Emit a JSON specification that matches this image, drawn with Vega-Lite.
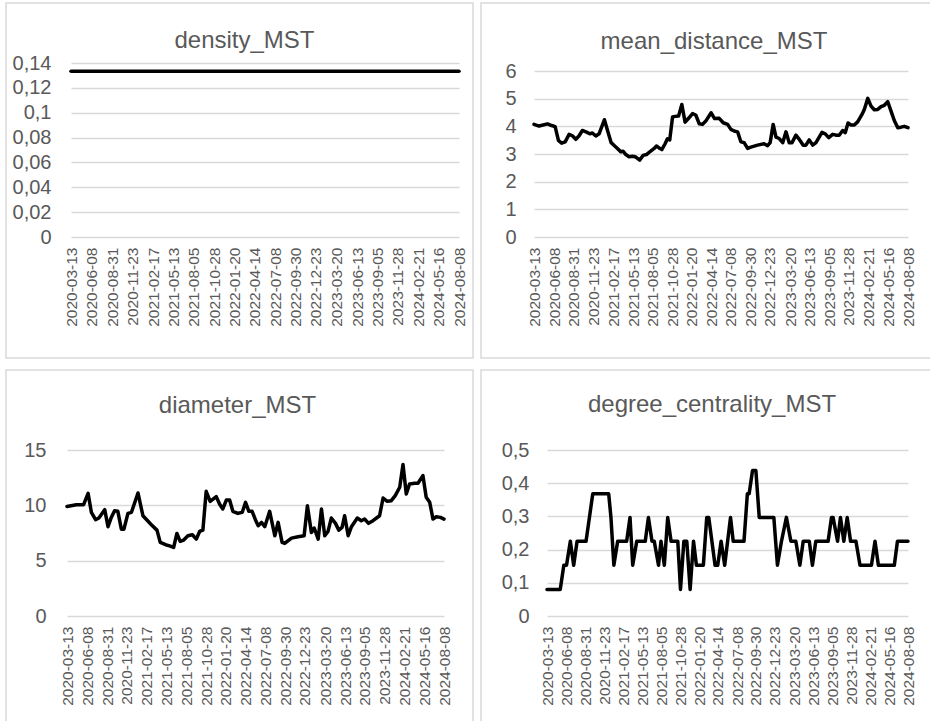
{
  "$schema": "https://vega.github.io/schema/vega-lite/v6.json",
  "background": "white",
  "padding": {"left": 5, "top": 2, "right": -4, "bottom": -4},
  "config": {
    "view": {"stroke": "#d9d9d9", "strokeWidth": 1.5, "fill": "white"},
    "font": "Liberation Sans",
    "title": {"font": "Liberation Sans", "fontSize": 24, "fontWeight": "normal", "color": "#595959", "anchor": "middle", "baseline": "alphabetic"},
    "axis": {"labelFont": "Liberation Sans", "labelColor": "#595959", "ticks": false, "domain": false, "title": null, "labelFlush": false, "labelOverlap": false, "labelBound": false},
    "axisX": {"grid": false, "labelFontSize": 15.5, "labelAngle": 270, "labelPadding": 10, "labelExpr": "utcFormat(datum.value, '%Y-%m-%d')"},
    "axisY": {"grid": true, "gridColor": "#d9d9d9", "gridWidth": 1.5, "labelFontSize": 20, "labelPadding": 18},
    "line": {"color": "#000000", "strokeWidth": 3.5, "strokeJoin": "round", "strokeCap": "round"}
  },
  "datasets": {
    "density": [
      {"d": "2020-03-13", "v": 0.1333}, {"d": "2020-06-08", "v": 0.1333}, {"d": "2020-08-31", "v": 0.1333}, {"d": "2020-11-23", "v": 0.1333},
      {"d": "2021-02-17", "v": 0.1333}, {"d": "2021-05-13", "v": 0.1333}, {"d": "2021-08-05", "v": 0.1333}, {"d": "2021-10-28", "v": 0.1333},
      {"d": "2022-01-20", "v": 0.1333}, {"d": "2022-04-14", "v": 0.1333}, {"d": "2022-07-08", "v": 0.1333}, {"d": "2022-09-30", "v": 0.1333},
      {"d": "2022-12-23", "v": 0.1333}, {"d": "2023-03-20", "v": 0.1333}, {"d": "2023-06-13", "v": 0.1333}, {"d": "2023-09-05", "v": 0.1333},
      {"d": "2023-11-28", "v": 0.1333}, {"d": "2024-02-21", "v": 0.1333}, {"d": "2024-05-16", "v": 0.1333}, {"d": "2024-08-08", "v": 0.1333}
    ],
    "mean_distance": [
      {"d": "2020-03-13", "v": 4.07}, {"d": "2020-04-04", "v": 4.01}, {"d": "2020-05-10", "v": 4.09}, {"d": "2020-05-28", "v": 4.03},
      {"d": "2020-06-12", "v": 3.99}, {"d": "2020-06-26", "v": 3.49}, {"d": "2020-07-10", "v": 3.39}, {"d": "2020-07-25", "v": 3.44},
      {"d": "2020-08-11", "v": 3.71}, {"d": "2020-08-25", "v": 3.66}, {"d": "2020-09-09", "v": 3.53}, {"d": "2020-09-23", "v": 3.66},
      {"d": "2020-10-07", "v": 3.85}, {"d": "2020-10-25", "v": 3.79}, {"d": "2020-11-08", "v": 3.73}, {"d": "2020-11-19", "v": 3.76},
      {"d": "2020-12-04", "v": 3.65}, {"d": "2020-12-18", "v": 3.73}, {"d": "2021-01-10", "v": 4.24}, {"d": "2021-01-24", "v": 3.83},
      {"d": "2021-02-08", "v": 3.41}, {"d": "2021-02-21", "v": 3.31}, {"d": "2021-03-07", "v": 3.20}, {"d": "2021-03-21", "v": 3.08},
      {"d": "2021-03-31", "v": 3.10}, {"d": "2021-04-12", "v": 2.98}, {"d": "2021-04-26", "v": 2.90}, {"d": "2021-05-11", "v": 2.92},
      {"d": "2021-05-25", "v": 2.89}, {"d": "2021-06-11", "v": 2.78}, {"d": "2021-06-25", "v": 2.95}, {"d": "2021-07-10", "v": 2.98},
      {"d": "2021-07-24", "v": 3.08}, {"d": "2021-08-12", "v": 3.20}, {"d": "2021-08-22", "v": 3.29}, {"d": "2021-09-02", "v": 3.22},
      {"d": "2021-09-14", "v": 3.16}, {"d": "2021-09-28", "v": 3.37}, {"d": "2021-10-08", "v": 3.55}, {"d": "2021-10-18", "v": 3.51},
      {"d": "2021-10-30", "v": 4.34}, {"d": "2021-11-10", "v": 4.36}, {"d": "2021-11-25", "v": 4.37}, {"d": "2021-12-09", "v": 4.79},
      {"d": "2021-12-23", "v": 4.15}, {"d": "2022-01-09", "v": 4.31}, {"d": "2022-01-24", "v": 4.46}, {"d": "2022-02-07", "v": 4.41},
      {"d": "2022-02-22", "v": 4.09}, {"d": "2022-03-08", "v": 4.07}, {"d": "2022-03-22", "v": 4.19}, {"d": "2022-04-14", "v": 4.49},
      {"d": "2022-04-29", "v": 4.28}, {"d": "2022-05-19", "v": 4.29}, {"d": "2022-06-05", "v": 4.13}, {"d": "2022-06-24", "v": 4.07},
      {"d": "2022-07-08", "v": 3.89}, {"d": "2022-07-22", "v": 3.83}, {"d": "2022-08-06", "v": 3.80}, {"d": "2022-08-20", "v": 3.44},
      {"d": "2022-09-03", "v": 3.41}, {"d": "2022-09-18", "v": 3.20}, {"d": "2022-10-02", "v": 3.25}, {"d": "2022-10-31", "v": 3.32},
      {"d": "2022-11-28", "v": 3.37}, {"d": "2022-12-13", "v": 3.30}, {"d": "2022-12-24", "v": 3.41}, {"d": "2023-01-06", "v": 4.07},
      {"d": "2023-01-18", "v": 3.61}, {"d": "2023-02-01", "v": 3.56}, {"d": "2023-02-16", "v": 3.41}, {"d": "2023-03-02", "v": 3.80},
      {"d": "2023-03-16", "v": 3.41}, {"d": "2023-03-28", "v": 3.41}, {"d": "2023-04-14", "v": 3.68}, {"d": "2023-04-28", "v": 3.53},
      {"d": "2023-05-15", "v": 3.32}, {"d": "2023-05-27", "v": 3.32}, {"d": "2023-06-10", "v": 3.51}, {"d": "2023-06-25", "v": 3.32},
      {"d": "2023-07-09", "v": 3.41}, {"d": "2023-08-04", "v": 3.78}, {"d": "2023-08-18", "v": 3.73}, {"d": "2023-09-02", "v": 3.59},
      {"d": "2023-09-19", "v": 3.71}, {"d": "2023-10-06", "v": 3.68}, {"d": "2023-10-17", "v": 3.68}, {"d": "2023-11-01", "v": 3.85},
      {"d": "2023-11-12", "v": 3.77}, {"d": "2023-11-24", "v": 4.12}, {"d": "2023-12-07", "v": 4.05}, {"d": "2023-12-21", "v": 4.05},
      {"d": "2024-01-05", "v": 4.17}, {"d": "2024-01-23", "v": 4.43}, {"d": "2024-02-02", "v": 4.61}, {"d": "2024-02-17", "v": 5.01},
      {"d": "2024-03-02", "v": 4.73}, {"d": "2024-03-16", "v": 4.60}, {"d": "2024-03-31", "v": 4.61}, {"d": "2024-04-14", "v": 4.71},
      {"d": "2024-04-28", "v": 4.76}, {"d": "2024-05-13", "v": 4.89}, {"d": "2024-05-27", "v": 4.55}, {"d": "2024-06-10", "v": 4.21},
      {"d": "2024-06-25", "v": 3.95}, {"d": "2024-07-09", "v": 3.97}, {"d": "2024-07-23", "v": 4.00}, {"d": "2024-08-08", "v": 3.95}
    ],
    "diameter": [
      {"d": "2020-03-13", "v": 9.9}, {"d": "2020-04-22", "v": 10.06}, {"d": "2020-05-23", "v": 10.06}, {"d": "2020-06-11", "v": 11.09},
      {"d": "2020-06-25", "v": 9.37}, {"d": "2020-07-13", "v": 8.7}, {"d": "2020-07-27", "v": 8.85}, {"d": "2020-08-21", "v": 9.61},
      {"d": "2020-09-04", "v": 8.07}, {"d": "2020-09-18", "v": 8.91}, {"d": "2020-10-02", "v": 9.52}, {"d": "2020-10-16", "v": 9.46},
      {"d": "2020-10-31", "v": 7.85}, {"d": "2020-11-11", "v": 7.85}, {"d": "2020-11-28", "v": 9.27}, {"d": "2020-12-13", "v": 9.37},
      {"d": "2021-01-10", "v": 11.12}, {"d": "2021-01-31", "v": 9.06}, {"d": "2021-02-17", "v": 8.67}, {"d": "2021-03-08", "v": 8.25},
      {"d": "2021-04-01", "v": 7.76}, {"d": "2021-04-15", "v": 6.65}, {"d": "2021-05-08", "v": 6.44}, {"d": "2021-05-25", "v": 6.34},
      {"d": "2021-06-11", "v": 6.19}, {"d": "2021-06-25", "v": 7.46}, {"d": "2021-07-09", "v": 6.74}, {"d": "2021-07-24", "v": 6.86},
      {"d": "2021-08-11", "v": 7.25}, {"d": "2021-08-30", "v": 7.34}, {"d": "2021-09-16", "v": 6.95}, {"d": "2021-09-30", "v": 7.64},
      {"d": "2021-10-14", "v": 7.76}, {"d": "2021-10-28", "v": 11.27}, {"d": "2021-11-14", "v": 10.36}, {"d": "2021-12-10", "v": 10.79},
      {"d": "2021-12-24", "v": 10.12}, {"d": "2022-01-07", "v": 9.67}, {"d": "2022-01-22", "v": 10.48}, {"d": "2022-02-05", "v": 10.48},
      {"d": "2022-02-19", "v": 9.46}, {"d": "2022-03-12", "v": 9.27}, {"d": "2022-03-31", "v": 9.37}, {"d": "2022-04-14", "v": 10.27},
      {"d": "2022-04-28", "v": 9.46}, {"d": "2022-05-12", "v": 9.46}, {"d": "2022-05-26", "v": 8.7}, {"d": "2022-06-07", "v": 8.16},
      {"d": "2022-06-21", "v": 8.46}, {"d": "2022-07-05", "v": 8.07}, {"d": "2022-07-26", "v": 9.46}, {"d": "2022-08-17", "v": 7.25},
      {"d": "2022-08-31", "v": 8.46}, {"d": "2022-09-17", "v": 6.65}, {"d": "2022-09-28", "v": 6.56}, {"d": "2022-10-27", "v": 7.04},
      {"d": "2022-11-24", "v": 7.16}, {"d": "2022-12-20", "v": 7.25}, {"d": "2023-01-03", "v": 9.97}, {"d": "2023-01-20", "v": 7.55},
      {"d": "2023-02-01", "v": 7.95}, {"d": "2023-02-18", "v": 6.95}, {"d": "2023-03-04", "v": 9.67}, {"d": "2023-03-18", "v": 7.25},
      {"d": "2023-04-01", "v": 7.64}, {"d": "2023-04-15", "v": 8.85}, {"d": "2023-05-03", "v": 8.37}, {"d": "2023-05-17", "v": 7.76},
      {"d": "2023-05-31", "v": 8.01}, {"d": "2023-06-11", "v": 9.06}, {"d": "2023-06-26", "v": 7.25}, {"d": "2023-07-10", "v": 8.07},
      {"d": "2023-08-04", "v": 8.85}, {"d": "2023-08-21", "v": 8.61}, {"d": "2023-09-04", "v": 8.76}, {"d": "2023-09-21", "v": 8.37},
      {"d": "2023-10-10", "v": 8.61}, {"d": "2023-11-07", "v": 9.06}, {"d": "2023-11-22", "v": 10.66}, {"d": "2023-12-10", "v": 10.36},
      {"d": "2023-12-27", "v": 10.42}, {"d": "2024-01-13", "v": 10.88}, {"d": "2024-02-01", "v": 11.63}, {"d": "2024-02-15", "v": 13.69},
      {"d": "2024-02-29", "v": 11.03}, {"d": "2024-03-14", "v": 11.93}, {"d": "2024-04-05", "v": 11.99}, {"d": "2024-04-19", "v": 11.99},
      {"d": "2024-05-10", "v": 12.69}, {"d": "2024-05-24", "v": 10.73}, {"d": "2024-06-08", "v": 10.27}, {"d": "2024-06-22", "v": 8.76},
      {"d": "2024-07-06", "v": 8.97}, {"d": "2024-07-24", "v": 8.91}, {"d": "2024-08-08", "v": 8.76}
    ],
    "degree_centrality": [
      {"d": "2020-03-13", "v": 0.08}, {"d": "2020-05-11", "v": 0.08}, {"d": "2020-05-27", "v": 0.153}, {"d": "2020-06-08", "v": 0.153},
      {"d": "2020-06-25", "v": 0.225}, {"d": "2020-07-10", "v": 0.153}, {"d": "2020-07-25", "v": 0.225}, {"d": "2020-09-03", "v": 0.225},
      {"d": "2020-10-03", "v": 0.368}, {"d": "2020-12-13", "v": 0.368}, {"d": "2020-12-23", "v": 0.297}, {"d": "2021-01-05", "v": 0.153},
      {"d": "2021-01-22", "v": 0.225}, {"d": "2021-03-03", "v": 0.225}, {"d": "2021-03-18", "v": 0.297}, {"d": "2021-03-30", "v": 0.153},
      {"d": "2021-04-17", "v": 0.225}, {"d": "2021-05-25", "v": 0.225}, {"d": "2021-06-08", "v": 0.297}, {"d": "2021-06-24", "v": 0.225},
      {"d": "2021-07-04", "v": 0.225}, {"d": "2021-07-23", "v": 0.153}, {"d": "2021-08-03", "v": 0.225}, {"d": "2021-08-18", "v": 0.153},
      {"d": "2021-09-02", "v": 0.297}, {"d": "2021-09-17", "v": 0.225}, {"d": "2021-10-17", "v": 0.225}, {"d": "2021-10-29", "v": 0.08},
      {"d": "2021-11-13", "v": 0.225}, {"d": "2021-11-26", "v": 0.225}, {"d": "2021-12-11", "v": 0.08}, {"d": "2021-12-26", "v": 0.225},
      {"d": "2022-01-08", "v": 0.153}, {"d": "2022-02-08", "v": 0.153}, {"d": "2022-02-23", "v": 0.297}, {"d": "2022-03-04", "v": 0.297},
      {"d": "2022-04-01", "v": 0.153}, {"d": "2022-04-13", "v": 0.153}, {"d": "2022-04-28", "v": 0.225}, {"d": "2022-05-14", "v": 0.153},
      {"d": "2022-06-09", "v": 0.297}, {"d": "2022-06-21", "v": 0.225}, {"d": "2022-08-08", "v": 0.225}, {"d": "2022-08-23", "v": 0.368},
      {"d": "2022-08-31", "v": 0.368}, {"d": "2022-09-15", "v": 0.438}, {"d": "2022-09-30", "v": 0.438}, {"d": "2022-10-15", "v": 0.297},
      {"d": "2022-12-19", "v": 0.297}, {"d": "2023-01-04", "v": 0.153}, {"d": "2023-01-22", "v": 0.225}, {"d": "2023-02-13", "v": 0.297},
      {"d": "2023-03-05", "v": 0.225}, {"d": "2023-03-27", "v": 0.225}, {"d": "2023-04-14", "v": 0.153}, {"d": "2023-04-29", "v": 0.225},
      {"d": "2023-05-26", "v": 0.225}, {"d": "2023-06-09", "v": 0.153}, {"d": "2023-06-24", "v": 0.225}, {"d": "2023-08-18", "v": 0.225},
      {"d": "2023-09-02", "v": 0.297}, {"d": "2023-09-09", "v": 0.297}, {"d": "2023-09-29", "v": 0.225}, {"d": "2023-10-12", "v": 0.297},
      {"d": "2023-10-27", "v": 0.225}, {"d": "2023-11-11", "v": 0.297}, {"d": "2023-11-26", "v": 0.225}, {"d": "2023-12-20", "v": 0.225},
      {"d": "2024-01-07", "v": 0.153}, {"d": "2024-02-27", "v": 0.153}, {"d": "2024-03-14", "v": 0.225}, {"d": "2024-03-29", "v": 0.153},
      {"d": "2024-06-08", "v": 0.153}, {"d": "2024-06-22", "v": 0.225}, {"d": "2024-08-08", "v": 0.225}
    ]
  },
  "columns": 2,
  "bounds": "flush",
  "spacing": {"row": 12, "column": 8},
  "concat": [
    {
      "width": 467,
      "height": 355,
      "title": {"text": "density_MST", "dx": 5, "offset": -50},
      "data": {"name": "density"},
      "mark": {"type": "line"},
      "encoding": {
        "x": {"field": "d", "type": "temporal",
          "scale": {"type": "utc", "nice": false, "range": [65, 453], "domain": [{"year": 2020, "month": 3, "date": 13, "utc": true}, {"year": 2024, "month": 8, "date": 8, "utc": true}]},
          "axis": {"offset": -121, "values": [{"year":2020,"month":3,"date":13,"utc":true},{"year":2020,"month":6,"date":8,"utc":true},{"year":2020,"month":8,"date":31,"utc":true},{"year":2020,"month":11,"date":23,"utc":true},{"year":2021,"month":2,"date":17,"utc":true},{"year":2021,"month":5,"date":13,"utc":true},{"year":2021,"month":8,"date":5,"utc":true},{"year":2021,"month":10,"date":28,"utc":true},{"year":2022,"month":1,"date":20,"utc":true},{"year":2022,"month":4,"date":14,"utc":true},{"year":2022,"month":7,"date":8,"utc":true},{"year":2022,"month":9,"date":30,"utc":true},{"year":2022,"month":12,"date":23,"utc":true},{"year":2023,"month":3,"date":20,"utc":true},{"year":2023,"month":6,"date":13,"utc":true},{"year":2023,"month":9,"date":5,"utc":true},{"year":2023,"month":11,"date":28,"utc":true},{"year":2024,"month":2,"date":21,"utc":true},{"year":2024,"month":5,"date":16,"utc":true},{"year":2024,"month":8,"date":8,"utc":true}]}},
        "y": {"field": "v", "type": "quantitative",
          "scale": {"domain": [0, 0.14], "nice": false, "range": [234, 60]},
          "axis": {"offset": -65, "labelPadding": 20, "values": [0, 0.02, 0.04, 0.06, 0.08, 0.1, 0.12, 0.14], "labelExpr": "replace(toString(datum.value), '.', ',')"}}
      }
    },
    {
      "width": 454,
      "height": 355,
      "title": {"text": "mean_distance_MST", "dx": 6, "offset": -51},
      "data": {"name": "mean_distance"},
      "mark": {"type": "line"},
      "encoding": {
        "x": {"field": "d", "type": "temporal",
          "scale": {"type": "utc", "nice": false, "range": [53, 427], "domain": [{"year": 2020, "month": 3, "date": 13, "utc": true}, {"year": 2024, "month": 8, "date": 8, "utc": true}]},
          "axis": {"offset": -121, "values": [{"year":2020,"month":3,"date":13,"utc":true},{"year":2020,"month":6,"date":8,"utc":true},{"year":2020,"month":8,"date":31,"utc":true},{"year":2020,"month":11,"date":23,"utc":true},{"year":2021,"month":2,"date":17,"utc":true},{"year":2021,"month":5,"date":13,"utc":true},{"year":2021,"month":8,"date":5,"utc":true},{"year":2021,"month":10,"date":28,"utc":true},{"year":2022,"month":1,"date":20,"utc":true},{"year":2022,"month":4,"date":14,"utc":true},{"year":2022,"month":7,"date":8,"utc":true},{"year":2022,"month":9,"date":30,"utc":true},{"year":2022,"month":12,"date":23,"utc":true},{"year":2023,"month":3,"date":20,"utc":true},{"year":2023,"month":6,"date":13,"utc":true},{"year":2023,"month":9,"date":5,"utc":true},{"year":2023,"month":11,"date":28,"utc":true},{"year":2024,"month":2,"date":21,"utc":true},{"year":2024,"month":5,"date":16,"utc":true},{"year":2024,"month":8,"date":8,"utc":true}]}},
        "y": {"field": "v", "type": "quantitative",
          "scale": {"domain": [0, 6], "nice": false, "range": [234, 68]},
          "axis": {"offset": -53, "values": [0, 1, 2, 3, 4, 5, 6]}}
      }
    },
    {
      "width": 467,
      "height": 356,
      "title": {"text": "diameter_MST", "dx": -2, "offset": -48},
      "data": {"name": "diameter"},
      "mark": {"type": "line"},
      "encoding": {
        "x": {"field": "d", "type": "temporal",
          "scale": {"type": "utc", "nice": false, "range": [61, 438], "domain": [{"year": 2020, "month": 3, "date": 13, "utc": true}, {"year": 2024, "month": 8, "date": 8, "utc": true}]},
          "axis": {"offset": -110, "values": [{"year":2020,"month":3,"date":13,"utc":true},{"year":2020,"month":6,"date":8,"utc":true},{"year":2020,"month":8,"date":31,"utc":true},{"year":2020,"month":11,"date":23,"utc":true},{"year":2021,"month":2,"date":17,"utc":true},{"year":2021,"month":5,"date":13,"utc":true},{"year":2021,"month":8,"date":5,"utc":true},{"year":2021,"month":10,"date":28,"utc":true},{"year":2022,"month":1,"date":20,"utc":true},{"year":2022,"month":4,"date":14,"utc":true},{"year":2022,"month":7,"date":8,"utc":true},{"year":2022,"month":9,"date":30,"utc":true},{"year":2022,"month":12,"date":23,"utc":true},{"year":2023,"month":3,"date":20,"utc":true},{"year":2023,"month":6,"date":13,"utc":true},{"year":2023,"month":9,"date":5,"utc":true},{"year":2023,"month":11,"date":28,"utc":true},{"year":2024,"month":2,"date":21,"utc":true},{"year":2024,"month":5,"date":16,"utc":true},{"year":2024,"month":8,"date":8,"utc":true}]}},
        "y": {"field": "v", "type": "quantitative",
          "scale": {"domain": [0, 15], "nice": false, "range": [246, 80]},
          "axis": {"offset": -61, "labelPadding": 21, "values": [0, 5, 10, 15]}}
      }
    },
    {
      "width": 454,
      "height": 356,
      "title": {"text": "degree_centrality_MST", "dx": 4, "offset": -47},
      "data": {"name": "degree_centrality"},
      "mark": {"type": "line"},
      "encoding": {
        "x": {"field": "d", "type": "temporal",
          "scale": {"type": "utc", "nice": false, "range": [66, 427], "domain": [{"year": 2020, "month": 3, "date": 13, "utc": true}, {"year": 2024, "month": 8, "date": 8, "utc": true}]},
          "axis": {"offset": -110, "values": [{"year":2020,"month":3,"date":13,"utc":true},{"year":2020,"month":6,"date":8,"utc":true},{"year":2020,"month":8,"date":31,"utc":true},{"year":2020,"month":11,"date":23,"utc":true},{"year":2021,"month":2,"date":17,"utc":true},{"year":2021,"month":5,"date":13,"utc":true},{"year":2021,"month":8,"date":5,"utc":true},{"year":2021,"month":10,"date":28,"utc":true},{"year":2022,"month":1,"date":20,"utc":true},{"year":2022,"month":4,"date":14,"utc":true},{"year":2022,"month":7,"date":8,"utc":true},{"year":2022,"month":9,"date":30,"utc":true},{"year":2022,"month":12,"date":23,"utc":true},{"year":2023,"month":3,"date":20,"utc":true},{"year":2023,"month":6,"date":13,"utc":true},{"year":2023,"month":9,"date":5,"utc":true},{"year":2023,"month":11,"date":28,"utc":true},{"year":2024,"month":2,"date":21,"utc":true},{"year":2024,"month":5,"date":16,"utc":true},{"year":2024,"month":8,"date":8,"utc":true}]}},
        "y": {"field": "v", "type": "quantitative",
          "scale": {"domain": [0, 0.5], "nice": false, "range": [246, 80]},
          "axis": {"offset": -66, "values": [0, 0.1, 0.2, 0.3, 0.4, 0.5], "labelExpr": "replace(toString(datum.value), '.', ',')"}}
      }
    }
  ]
}
